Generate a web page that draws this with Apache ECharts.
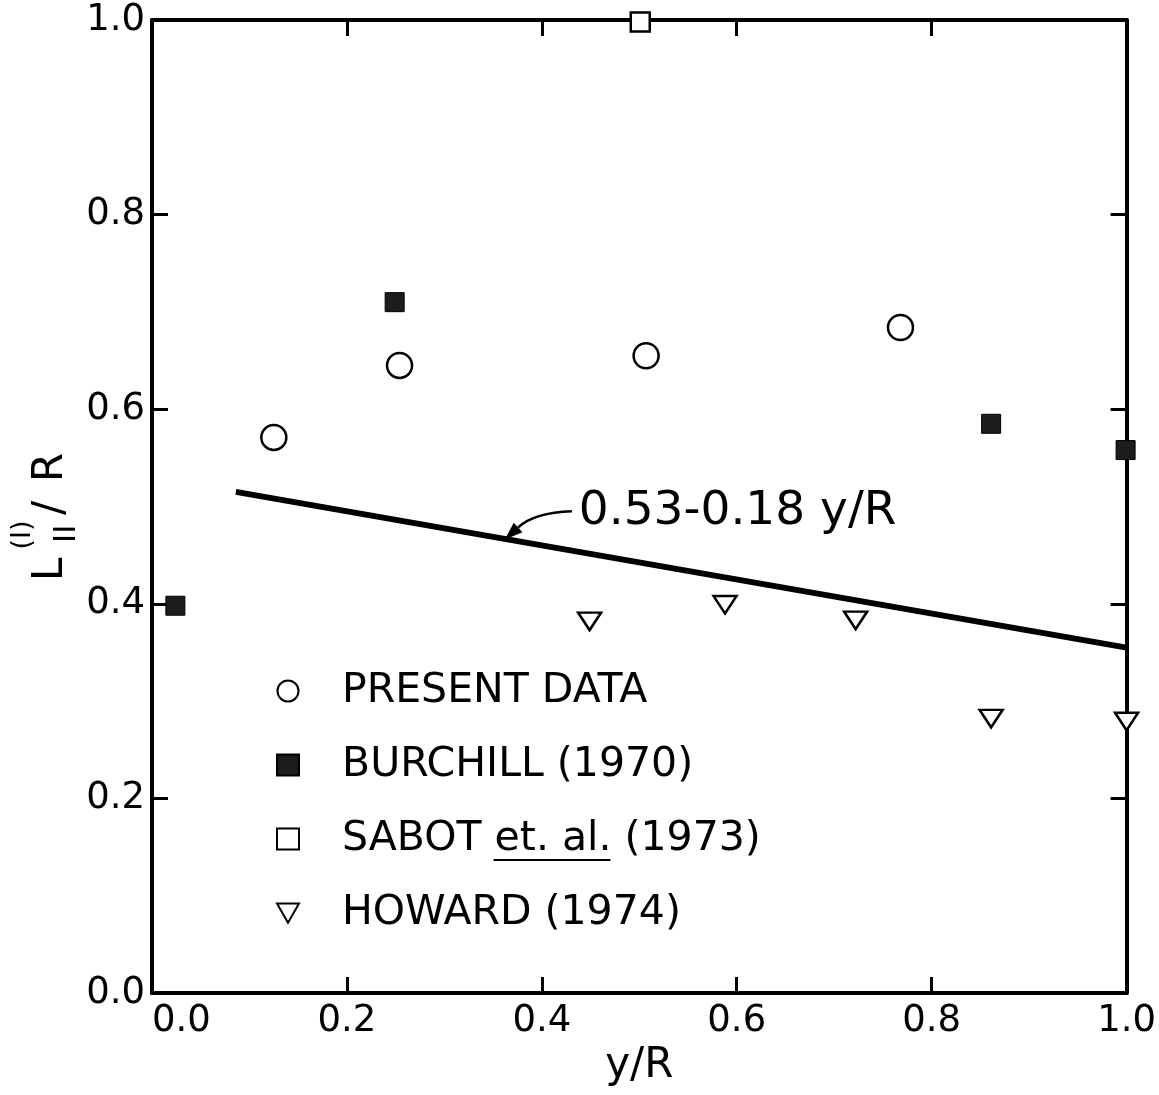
<!DOCTYPE html>
<html>
<head>
<meta charset="utf-8">
<script src="https://cdn.jsdelivr.net/npm/echarts@6/dist/echarts.min.js"></script>
<style>
  html, body { margin: 0; background: #fff; }
  #chart { width: 1159px; height: 1095px; }
</style>
</head>
<body>
<div id="chart"></div>
<script>
// values (x = y/R, y = L11/R)
const presentX = [0.125, 0.254, 0.507, 0.768];
const presentY = [0.571, 0.645, 0.655, 0.684];
const burchillX = [0.024, 0.249, 0.861, 0.999];
const burchillY = [0.398, 0.710, 0.585, 0.558];
const sabotX = [0.501];
const sabotY = [0.998];
const howardX = [0.449, 0.588, 0.722, 0.861, 1.0];
const howardY = [0.382, 0.399, 0.383, 0.282, 0.279];
// fitted line 0.53 - 0.18 y/R, end points as drawn
const fitX = [0.086, 1.0];
const fitY = [0.515, 0.355];
const tickStep = 0.2;
const seriesNames = ["PRESENT DATA", "BURCHILL (1970)", "SABOT et. al. (1973)", "HOWARD (1974)"];
const noteText = "0.53-0.18 y/R";
// where the note sits and where its arrow points (data space)
const noteAnchor = [0.438, 0.495];
const arrowTip = [0.362, 0.466];

const FONT = "'DejaVu Sans', sans-serif";
const pts = (xs, ys) => xs.map((x, i) => [x, ys[i]]);

const chart = echarts.init(document.getElementById("chart"));

const axisCommon = {
  type: "value",
  min: 0,
  max: 1,
  interval: tickStep,
  axisLine: { show: true, onZero: false, lineStyle: { color: "#000", width: 4 } },
  axisTick: { show: true, inside: true, length: 16, lineStyle: { color: "#000", width: 3 } },
  splitLine: { show: false },
};
const labelStyle = {
  fontSize: 37,
  color: "#000",
  fontFamily: FONT,
  formatter: (v) => v.toFixed(1),
};
const hollow = { color: "#fff", borderColor: "#000", borderWidth: 2.5, opacity: 1 };

// legend box placement (legend has 5px padding of its own)
const legendLeft = 271;
const legendTop = 664;

chart.setOption({
  animation: false,
  backgroundColor: "#fff",
  grid: { left: 152, right: 32, top: 20, bottom: 102 },
  xAxis: [
    {
      ...axisCommon,
      position: "bottom",
      axisLabel: { ...labelStyle, margin: 10, alignMinLabel: "left" },
      name: "y/R",
      nameLocation: "middle",
      nameGap: 48,
      nameTextStyle: { fontSize: 42, color: "#000", fontFamily: FONT },
    },
    { ...axisCommon, position: "top", axisLabel: { show: false } },
  ],
  yAxis: [
    { ...axisCommon, position: "left", axisLabel: { ...labelStyle, margin: 7 } },
    { ...axisCommon, position: "right", axisLabel: { show: false } },
  ],
  legend: {
    data: seriesNames,
    orient: "vertical",
    left: legendLeft,
    top: legendTop,
    itemWidth: 22,
    itemHeight: 21,
    itemGap: 30,
    selectedMode: false,
    textStyle: {
      fontSize: 41,
      color: "#000",
      fontFamily: FONT,
      lineHeight: 44,
      padding: [0, 0, 0, 38],
    },
  },
  series: [
    {
      name: seriesNames[0],
      type: "scatter",
      data: pts(presentX, presentY),
      symbol: "circle",
      symbolSize: 25,
      itemStyle: hollow,
    },
    {
      name: seriesNames[1],
      type: "scatter",
      data: pts(burchillX, burchillY),
      symbol: "rect",
      symbolSize: 19,
      itemStyle: { color: "#1c1c1c", borderColor: "#000", borderWidth: 1, opacity: 1 },
    },
    {
      name: seriesNames[2],
      type: "scatter",
      data: pts(sabotX, sabotY),
      symbol: "rect",
      symbolSize: 19,
      itemStyle: hollow,
    },
    {
      name: seriesNames[3],
      type: "scatter",
      data: pts(howardX, howardY),
      symbol: "path://M0,0L24,0L12,21Z",
      symbolSize: [23, 20],
      symbolKeepAspect: true,
      itemStyle: hollow,
    },
    {
      name: "fit",
      type: "line",
      data: pts(fitX, fitY),
      symbol: "none",
      silent: true,
      lineStyle: { color: "#000", width: 6 },
    },
  ],
});

// annotation, y-axis title and underline are drawn once the axes exist
function drawExtras() {
  const note = chart.convertToPixel({ gridIndex: 0 }, noteAnchor);
  const tip = chart.convertToPixel({ gridIndex: 0 }, arrowTip);
  const start = [note[0] - 7, note[1]];
  const cp1 = [start[0] - 30, start[1] + 1];
  const cp2 = [tip[0] + 22, tip[1] - 20];
  // arrow head direction: from cp2 to the tip
  let dx = tip[0] - cp2[0], dy = tip[1] - cp2[1];
  const len = Math.hypot(dx, dy);
  dx /= len; dy /= len;
  const headL = 18, headW = 6.5;
  const bx = tip[0] - dx * headL, by = tip[1] - dy * headL;

  // underline under "et. al."
  const ctx = document.createElement("canvas").getContext("2d");
  ctx.font = "41px 'DejaVu Sans'";
  const textLeft = legendLeft + 5 + 22 + 5 + 38;
  const ulStart = textLeft + ctx.measureText("SABOT ").width;
  const ulEnd = ulStart + ctx.measureText("et. al.").width;
  const ulY = legendTop + 5 + 2 * 74 + 22 + 21;

  chart.setOption({
    graphic: [
      {
        type: "text",
        x: note[0],
        y: note[1],
        style: { text: noteText, font: "47px " + FONT, fill: "#000", verticalAlign: "middle" },
      },
      {
        type: "bezierCurve",
        shape: { x1: start[0], y1: start[1], x2: bx, y2: by, cpx1: cp1[0], cpy1: cp1[1], cpx2: cp2[0], cpy2: cp2[1] },
        style: { stroke: "#000", lineWidth: 2.5, fill: null },
      },
      {
        type: "polygon",
        shape: {
          points: [
            tip,
            [bx + dy * headW, by - dx * headW],
            [bx - dy * headW, by + dx * headW],
          ],
        },
        style: { fill: "#000" },
      },
      {
        type: "line",
        shape: { x1: ulStart, y1: ulY, x2: ulEnd, y2: ulY },
        style: { stroke: "#000", lineWidth: 2 },
      },
      {
        // L_{II}^{(I)} / R, reading bottom to top
        type: "group",
        x: 63,
        y: 581,
        rotation: Math.PI / 2,
        children: [
          { type: "text", x: 0, y: 9, style: { text: "L", font: "42px " + FONT, fill: "#000", verticalAlign: "bottom" } },
          { type: "text", x: 38, y: 19, style: { text: "II", font: "31px " + FONT, fill: "#000", verticalAlign: "bottom" } },
          { type: "text", x: 46, y: -40, style: { text: "(I)", font: "27px " + FONT, fill: "#000", align: "center", verticalAlign: "middle" } },
          { type: "text", x: 66, y: 9, style: { text: "/", font: "42px " + FONT, fill: "#000", verticalAlign: "bottom" } },
          { type: "text", x: 99, y: 9, style: { text: "R", font: "42px " + FONT, fill: "#000", verticalAlign: "bottom" } },
        ],
      },
    ],
  });
}
drawExtras();
</script>
</body>
</html>
